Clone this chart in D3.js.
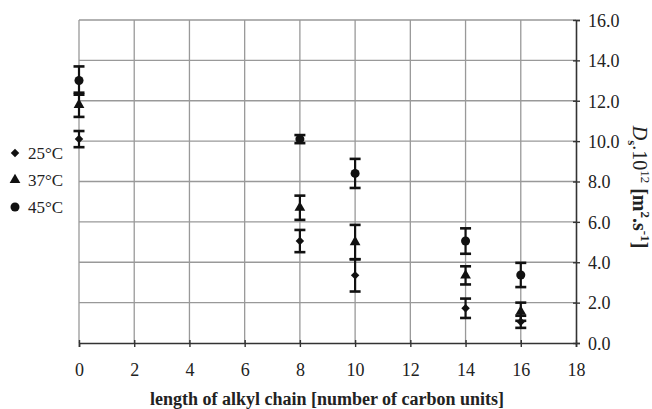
<!DOCTYPE html>
<html>
<head>
<meta charset="utf-8">
<script src="https://cdn.jsdelivr.net/npm/d3@7"></script>
<style>
  body { margin: 0; background: #fff; }
  svg text { font-family: "Liberation Serif", "Times New Roman", serif; fill: #222; }
</style>
</head>
<body>
<div id="vis"></div>
<script>
// chain length (number of carbon units)
const chainLength = [0, 8, 10, 14, 16];

// Ds * 10^12 [m^2 s^-1] and error bars, per temperature
const temps = ['25°C', '37°C', '45°C'];
const ds25 = [10.1, 5.05, 3.35, 1.72, 1.05];
const err25 = [0.4, 0.55, 0.8, 0.48, 0.3];
const ds37 = [11.8, 6.7, 5.0, 3.35, 1.55];
const err37 = [0.6, 0.6, 0.85, 0.45, 0.45];
const ds45 = [13.0, 10.1, 8.4, 5.05, 3.37];
const err45 = [0.7, 0.2, 0.72, 0.63, 0.6];

const xTicks = [0, 2, 4, 6, 8, 10, 12, 14, 16, 18];
const yTicks = [0, 2, 4, 6, 8, 10, 12, 14, 16];

let width = 652, height = 409;
let margin = {top: 20, right: 76, bottom: 66, left: 79};
let plotW = width - margin.left - margin.right,
    plotH = height - margin.top - margin.bottom;

let svg = d3.select('#vis')
    .append('svg')
    .attr('width', width)
    .attr('height', height);

let xScale = d3.scaleLinear().domain([0, 18]).range([margin.left, margin.left + plotW]);
let yScale = d3.scaleLinear().domain([0, 16]).range([margin.top + plotH, margin.top]);

// grid
svg.append('g')
    .selectAll('line')
    .data(xTicks.slice(0, -1))
    .enter()
    .append('line')
    .attr('x1', d => xScale(d)).attr('x2', d => xScale(d))
    .attr('y1', yScale(16)).attr('y2', yScale(0))
    .attr('stroke', '#999').attr('stroke-width', 1.3);

svg.append('g')
    .selectAll('line')
    .data(yTicks.slice(1))
    .enter()
    .append('line')
    .attr('x1', xScale(0)).attr('x2', xScale(18))
    .attr('y1', d => yScale(d)).attr('y2', d => yScale(d))
    .attr('stroke', '#999').attr('stroke-width', 1.3);

// axes
let xAxis = d3.axisBottom(xScale)
    .tickValues(xTicks)
    .tickSize(4)
    .tickFormat(d3.format('d'));
let gx = svg.append('g')
    .attr('transform', 'translate(0,' + yScale(0) + ')')
    .call(xAxis)
    .attr('font-family', null)
    .attr('font-size', null);
gx.select('.domain').attr('stroke', '#333').attr('stroke-width', 1.6);
gx.selectAll('.tick line').attr('stroke', '#333').attr('stroke-width', 1.4).attr('y1', -3);
gx.selectAll('.tick text')
    .attr('dy', 0).attr('y', 33)
    .style('font-size', '18px')
    .attr('fill', '#333');

let yAxis = d3.axisRight(yScale)
    .tickValues(yTicks)
    .tickSize(4)
    .tickFormat(d3.format('.1f'));
let gy = svg.append('g')
    .attr('transform', 'translate(' + xScale(18) + ',0)')
    .call(yAxis)
    .attr('font-family', null)
    .attr('font-size', null);
gy.select('.domain').attr('stroke', '#333').attr('stroke-width', 1.6);
gy.selectAll('.tick line').attr('stroke', '#333').attr('stroke-width', 1.4).attr('x1', -3);
gy.selectAll('.tick text')
    .attr('x', 12)
    .attr('dy', '0.35em')
    .style('font-size', '18px')
    .attr('fill', '#333');

// axis titles
svg.append('text')
    .attr('x', 327)
    .attr('y', 405)
    .attr('text-anchor', 'middle')
    .style('font-size', '18px')
    .style('font-weight', 'bold')
    .text('length of alkyl chain [number of carbon units]');

let yTitle = svg.append('text')
    .attr('transform', 'translate(633,187) rotate(90)')
    .attr('text-anchor', 'middle')
    .style('font-size', '20px')
    .style('font-weight', 'bold');
yTitle.append('tspan').style('font-style', 'italic').style('font-weight', 'normal').text('D');
yTitle.append('tspan').attr('dy', 5).style('font-size', '13px').text('s');
yTitle.append('tspan').attr('dy', -5).style('font-weight', 'normal').text('.10');
yTitle.append('tspan').attr('dy', -8).style('font-size', '13px').style('font-weight', 'normal').text('12');
yTitle.append('tspan').attr('dy', 8).text(' [m');
yTitle.append('tspan').attr('dy', -8).style('font-size', '13px').text('2');
yTitle.append('tspan').attr('dy', 8).text('.s');
yTitle.append('tspan').attr('dy', -8).style('font-size', '13px').text('-1');
yTitle.append('tspan').attr('dy', 8).text(']');

// series
let series = [
    {name: temps[0], values: ds25, errs: err25, symbol: d3.symbolSquare, size: 36, rotate: 45},
    {name: temps[1], values: ds37, errs: err37, symbol: d3.symbolTriangle, size: 50, rotate: 0},
    {name: temps[2], values: ds45, errs: err45, symbol: d3.symbolCircle, size: 64, rotate: 0}
];

let capW = 5.5;
series.forEach(function (s) {
    let g = svg.append('g').attr('class', 'series');
    let pts = chainLength.map((c, i) => ({x: c, y: s.values[i], e: s.errs[i]}));

    let eb = g.selectAll('g.err')
        .data(pts)
        .enter()
        .append('g')
        .attr('class', 'err')
        .attr('stroke', '#111')
        .attr('stroke-width', 2.2);
    eb.append('line')
        .attr('x1', d => xScale(d.x)).attr('x2', d => xScale(d.x))
        .attr('y1', d => yScale(d.y - d.e)).attr('y2', d => yScale(d.y + d.e));
    eb.append('line')
        .attr('x1', d => xScale(d.x) - capW).attr('x2', d => xScale(d.x) + capW)
        .attr('y1', d => yScale(d.y + d.e)).attr('y2', d => yScale(d.y + d.e))
        .attr('stroke-width', 2.6);
    eb.append('line')
        .attr('x1', d => xScale(d.x) - capW).attr('x2', d => xScale(d.x) + capW)
        .attr('y1', d => yScale(d.y - d.e)).attr('y2', d => yScale(d.y - d.e))
        .attr('stroke-width', 2.6);

    g.selectAll('path.marker')
        .data(pts)
        .enter()
        .append('path')
        .attr('class', 'marker')
        .attr('d', d3.symbol().type(s.symbol).size(s.size))
        .attr('fill', '#111')
        .attr('transform', d => 'translate(' + xScale(d.x) + ',' + yScale(d.y) + ') rotate(' + s.rotate + ')');
});

// legend
let legend = svg.append('g')
    .selectAll('g')
    .data(series)
    .enter()
    .append('g')
    .attr('transform', (d, i) => 'translate(15,' + (153 + i * 27) + ')');
legend.append('path')
    .attr('d', d => d3.symbol().type(d.symbol).size(d.size)())
    .attr('transform', d => 'rotate(' + d.rotate + ')')
    .attr('fill', '#111');
legend.append('text')
    .attr('x', 13)
    .attr('y', 6)
    .style('font-size', '17px')
    .text(d => d.name);
</script>
</body>
</html>
